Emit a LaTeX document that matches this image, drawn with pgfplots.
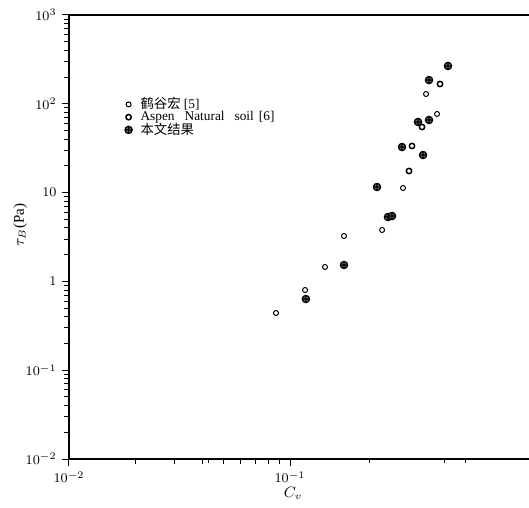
\documentclass[border=0pt]{standalone}
\usepackage{pgfplots}
\pgfplotsset{compat=1.18}
\usepackage{fontspec}
\setmainfont{Liberation Serif}
\newfontfamily\cjk{Noto Sans CJK SC}
\usetikzlibrary{calc}
\begin{document}
\begin{tikzpicture}
\begin{axis}[
 name=ax,
 xmode=log, ymode=log,
 scale only axis, width=276pt, height=266.4pt,
 xmin=0.01, xmax=1.206, ymin=0.01, ymax=1000,
 axis x line=box, axis y line*=left,
 y axis line style={-},
 xtick pos=left, ytick pos=left,
 tick align=outside,
 xtick={0.01,0.1}, xticklabels={$10^{-2}$,$10^{-1}$},
 extra x ticks={0.02,0.043,0.23,0.5,0.62},
 extra x tick labels={},
 extra x tick style={xtick pos=left, major tick length=2.5pt, tick align=outside},
 ytick={0.01,0.1,1,10,100,1000},
 yticklabels={$10^{-2}$,$10^{-1}$,$1$,$10$,$10^{2}$,$10^{3}$},
 extra y ticks={0.02,0.03,0.04,0.05,0.06,0.07,0.08,0.09,0.2,0.3,0.4,0.5,0.6,0.7,0.8,0.9,2,3,4,5,6,7,8,9,20,30,40,50,60,70,80,90,200,300,400,500,600,700,800,900},
 extra y tick labels={},
 extra y tick style={ytick pos=left, major tick length=2.5pt, tick align=outside},
 major tick length=4pt,
 tick style={black, line width=0.6pt},
 axis line style={line width=0.8pt},
 tick label style={font=\footnotesize},
 xlabel={$C_v$}, ylabel={$\tau_B$(Pa)},
 xlabel style={at={(axis description cs:0.487,-0.077)}, anchor=center},
 ylabel style={at={(axis description cs:-0.106,0.527)}, anchor=center},
 label style={font=\small},
 legend style={at={(0.11,0.83)}, anchor=north west, draw=none, fill=none,
   font=\fontsize{8}{8}\selectfont, row sep=-4pt},
 legend cell align=left,
]
\addplot[only marks, mark=o, mark size=1.5pt, line width=0.6pt] coordinates {
 (0.0864,0.4406) (0.117,0.800) (0.144,1.453) (0.1755,3.245) (0.261,3.792)
 (0.3246,11.27) (0.4126,128.9) (0.4627,76.8)};
\addlegendentry{\hspace{3pt}{\cjk 鹤谷宏} [5]}
\addplot[only marks, mark=o, mark size=1.6pt, line width=0.9pt] coordinates {
 (0.3565,33.5) (0.3455,17.5) (0.3957,54.8) (0.4772,167)};
\addlegendentry{\hspace{3pt}Aspen\hspace{6pt}Natural\hspace{6pt}soil\hspace{3pt}[6]}
\addplot[only marks, mark=oplus*, mark size=2.2pt, line width=0.7pt, fill=black!60] coordinates {
 (0.118,0.6335) (0.1755,1.530) (0.2475,11.56) (0.2776,5.31) (0.2894,5.45)
 (0.3212,32.6) (0.3999,26.5) (0.3795,62.4) (0.4256,65.7) (0.4256,185) (0.5187,266.6)};
\addlegendentry{\hspace{3pt}{\cjk 本文结果}}
\end{axis}
\pgfresetboundingbox
\path[use as bounding box] ($(ax.south west)+(-41.4pt,-28.8pt)$) rectangle ($(ax.north east)+(0,9pt)$);
\end{tikzpicture}
\end{document}
